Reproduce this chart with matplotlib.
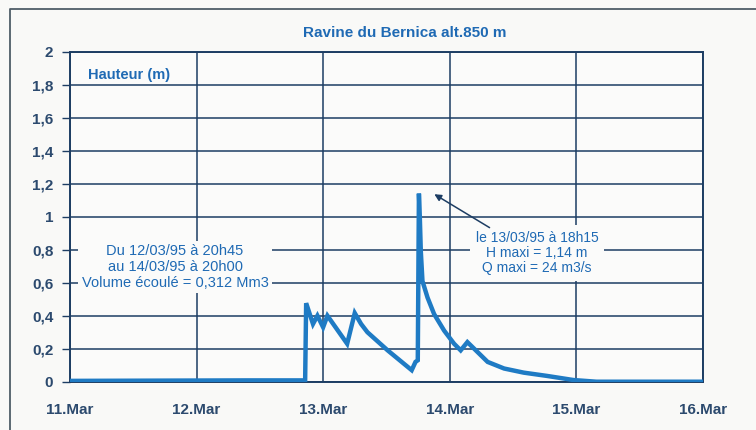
import matplotlib
matplotlib.use('Agg')
from matplotlib import pyplot as plt
from matplotlib.lines import Line2D

# jours de mars 1995 (valeur décimale) et hauteur d'eau (m)
jours = [11.0, 12.4, 12.858, 12.866, 12.92, 12.955, 13.0, 13.034, 13.19, 13.25,
         13.30, 13.35, 13.51, 13.70, 13.73, 13.748, 13.757, 13.764, 13.772, 13.785,
         13.825, 13.877, 13.956, 14.035, 14.087, 14.14, 14.30, 14.43, 14.585,
         14.77, 14.98, 15.16, 16.0]
hauteur = [0.005, 0.008, 0.008, 0.476, 0.35, 0.40, 0.33, 0.40, 0.23, 0.416,
           0.35, 0.30, 0.19, 0.07, 0.12, 0.13, 1.14, 1.0, 0.79, 0.61,
           0.51, 0.41, 0.31, 0.23, 0.19, 0.24, 0.12, 0.08, 0.055,
           0.035, 0.01, 0.0, 0.0]

x_ticks = [11, 12, 13, 14, 15, 16]
x_labels = ['11.Mar', '12.Mar', '13.Mar', '14.Mar', '15.Mar', '16.Mar']
y_ticks = [0, 0.2, 0.4, 0.6, 0.8, 1, 1.2, 1.4, 1.6, 1.8, 2]
y_labels = ['0', '0,2', '0,4', '0,6', '0,8', '1', '1,2', '1,4', '1,6', '1,8', '2']

plt.rcParams['font.family'] = ['Liberation Sans', 'DejaVu Sans']

bleu = '#1f7bc4'
marine = '#1d3d63'
texte = '#1f6ab4'

fig = plt.figure(figsize=(7.56, 4.30), dpi=100, facecolor='#f9f9f7')
ax = fig.add_axes([0.0926, 0.1123, 0.837, 0.7675])
ax.set_facecolor('#fbfbfa')

ax.plot(jours, hauteur, color=bleu, lw=3.2, solid_joinstyle='miter', zorder=3)

ax.set_xlim(11, 16)
ax.set_ylim(0, 2)
ax.set_xticks(x_ticks)
ax.set_xticklabels(x_labels)
ax.set_yticks(y_ticks)
ax.set_yticklabels(y_labels)
ax.grid(True, color=marine, lw=1.1, zorder=1)
for s in ax.spines.values():
    s.set_color(marine)
    s.set_linewidth(1.4)
ax.tick_params(axis='x', length=0, pad=15, labelsize=11, labelcolor='#2c4a6e')
ax.tick_params(axis='y', length=6, width=1, color=marine, pad=6, labelsize=11, labelcolor='#2c4a6e')
for lab in ax.get_xticklabels() + ax.get_yticklabels():
    lab.set_fontweight('bold')

fig.text(0.535, 0.923, 'Ravine du Bernica alt.850 m', color=texte, fontsize=11,
         fontweight='bold', ha='center', va='center')
ax.text(11.14, 1.86, 'Hauteur (m)', color=texte, fontsize=10.5, fontweight='bold',
        ha='left', va='center', zorder=4)

ax.text(11.83, 0.695, 'Du 12/03/95 à 20h45\nau 14/03/95 à 20h00\nVolume écoulé = 0,312 Mm3',
        color=texte, fontsize=10.5, ha='center', va='center', linespacing=1.15, zorder=4,
        bbox=dict(boxstyle='square,pad=0.25', fc='#fbfbfa', ec='none'))

ax.text(14.69, 0.78, 'le 13/03/95 à 18h15\nH maxi = 1,14 m\nQ maxi = 24 m3/s',
        color=texte, fontsize=10, ha='center', va='center', linespacing=1.12, zorder=4,
        bbox=dict(boxstyle='square,pad=0.4', fc='#fbfbfa', ec='none'))
ax.annotate('', xy=(13.86, 1.145), xytext=(14.334, 0.925), zorder=5,
            arrowprops=dict(arrowstyle='-|>', color=marine, lw=1.1, mutation_scale=10))

# cadre extérieur
fig.add_artist(Line2D([0.013, 0.013, 1.0], [0.0, 0.979, 0.979],
                      transform=fig.transFigure, color='#4f5d68', lw=1.3))

fig.savefig('out.png', dpi=100, facecolor=fig.get_facecolor())
